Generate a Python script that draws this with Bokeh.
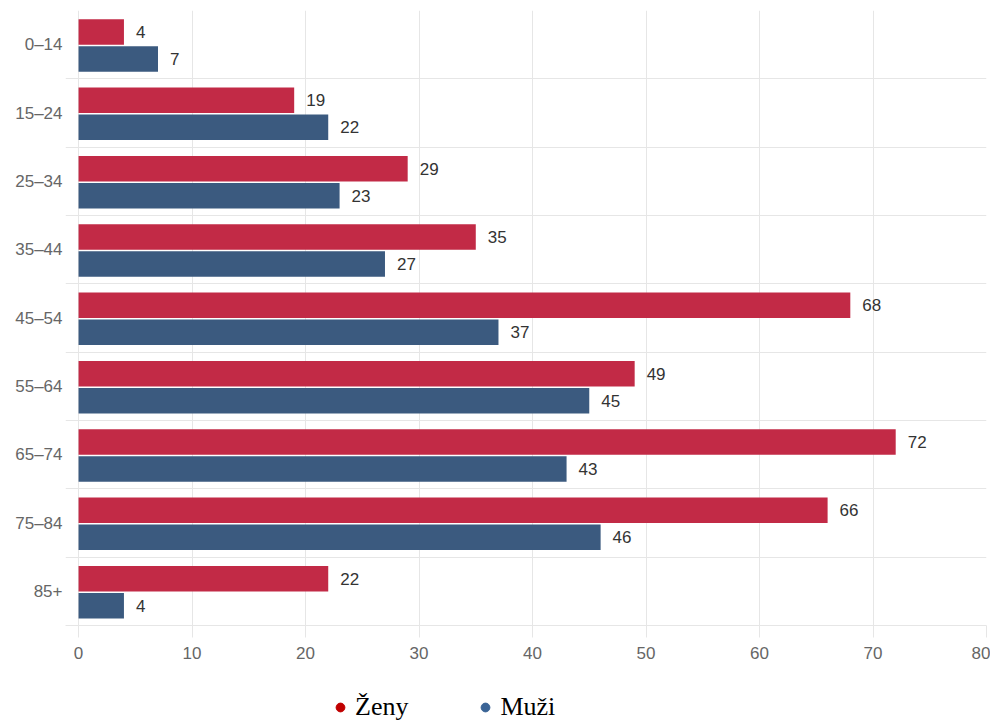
from bokeh.plotting import figure
from bokeh.models import FixedTicker, Range1d, Legend, LegendItem
from bokeh.layouts import column
from bokeh.embed import file_html
from bokeh.resources import INLINE
from bokeh.core.properties import value

categories = ["0–14", "15–24", "25–34", "35–44", "45–54", "55–64", "65–74", "75–84", "85+"]
zeny = [4, 19, 29, 35, 68, 49, 72, 66, 22]
muzi = [7, 22, 23, 27, 37, 45, 43, 46, 4]
x_ticks = [0, 10, 20, 30, 40, 50, 60, 70, 80]

RED = "#c22a46"
BLUE = "#3b5a7f"
GRID = "#e6e6e6"
LABEL = "#666666"

n = len(categories)
centers = [n - i - 0.5 for i in range(n)]
y_red = [c + 0.185 for c in centers]
y_blue = [c - 0.21 for c in centers]

p = figure(width=990, height=665, output_backend="svg", toolbar_location=None,
           x_range=Range1d(-1.15, 80), y_range=Range1d(0, n),
           min_border_left=65, min_border_right=4, min_border_top=10, min_border_bottom=40)
p.outline_line_color = None
p.background_fill_color = "white"

# axes
p.yaxis.ticker = FixedTicker(ticks=centers)
p.yaxis.major_label_overrides = {c: lab for c, lab in zip(centers, categories)}
p.yaxis.axis_line_color = None
p.yaxis.major_tick_line_color = None
p.yaxis.major_tick_out = 0
p.yaxis.major_tick_in = 0
p.yaxis.minor_tick_line_color = None
p.yaxis.major_label_standoff = 3
p.yaxis.major_label_text_color = LABEL
p.yaxis.major_label_text_font = "Liberation Sans"
p.yaxis.major_label_text_font_size = "17px"

p.xaxis.ticker = FixedTicker(ticks=x_ticks)
p.xaxis.axis_line_color = GRID
p.xaxis.major_tick_line_color = GRID
p.xaxis.major_tick_out = 12
p.xaxis.major_tick_in = 0
p.xaxis.minor_tick_line_color = None
p.xaxis.major_label_standoff = 9
p.xaxis.major_label_text_color = LABEL
p.xaxis.major_label_text_font = "Liberation Sans"
p.xaxis.major_label_text_font_size = "17px"

p.xgrid.ticker = FixedTicker(ticks=x_ticks)
p.xgrid.grid_line_color = GRID
p.ygrid.ticker = FixedTicker(ticks=list(range(n + 1)))
p.ygrid.grid_line_color = GRID

# bars
p.hbar(y=y_red, left=0, right=zeny, height=0.373, fill_color=RED, line_color=None)
p.hbar(y=y_blue, left=0, right=muzi, height=0.373, fill_color=BLUE, line_color=None)

# value labels
p.text(x=zeny, y=y_red, text=[str(v) for v in zeny], x_offset=12, text_baseline="middle",
       text_font=value("Liberation Sans"), text_font_size="17px", text_color="#333333")
p.text(x=muzi, y=y_blue, text=[str(v) for v in muzi], x_offset=12, text_baseline="middle",
       text_font=value("Liberation Sans"), text_font_size="17px", text_color="#333333")

# legend in a small companion figure (its marks fall outside its own ranges)
lg = figure(width=990, height=57, output_backend="svg", toolbar_location=None,
            x_range=Range1d(0, 1), y_range=Range1d(0, 1),
            min_border_left=0, min_border_right=0, min_border_top=0, min_border_bottom=0)
lg.axis.visible = False
lg.grid.visible = False
lg.outline_line_color = None
r1 = lg.scatter(x=zeny, y=y_red, marker="circle", size=9,
                fill_color="#c00000", line_color="#c00000")
r2 = lg.scatter(x=muzi, y=y_blue, marker="circle", size=9,
                fill_color="#3a6496", line_color="#3a6496")
legend = Legend(items=[LegendItem(label="Ženy", renderers=[r1]),
                       LegendItem(label="Muži", renderers=[r2])],
                orientation="horizontal", location=(264, 0),
                glyph_width=22, glyph_height=22, label_standoff=4, spacing=66,
                padding=0, margin=0, border_line_color=None, background_fill_alpha=0,
                label_text_font="Liberation Serif", label_text_font_size="26px",
                label_text_color="black")
lg.add_layout(legend, "center")

open("out.html", "w").write(file_html(column(p, lg, spacing=0), INLINE))
